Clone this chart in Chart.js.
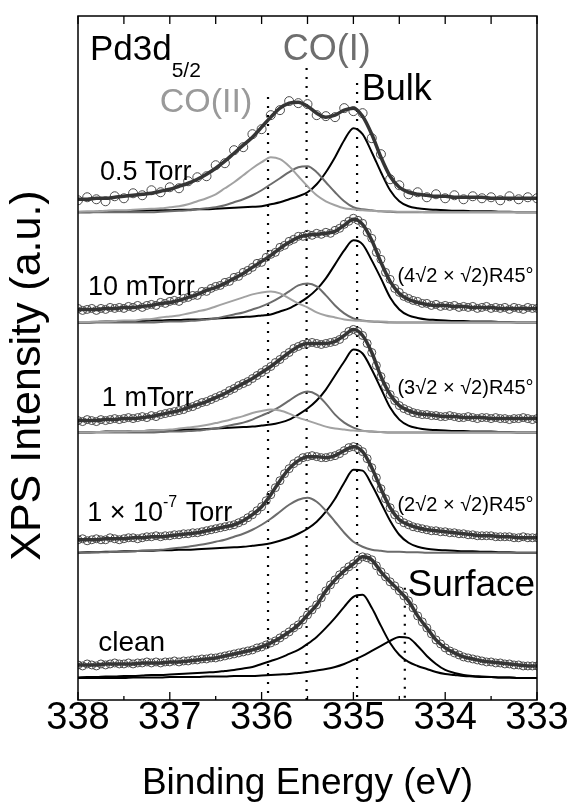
<!DOCTYPE html>
<html>
<head>
<meta charset="utf-8">
<script src="https://cdn.jsdelivr.net/npm/chart.js@4.4.1/dist/chart.umd.min.js"></script>
<style>
  html, body { margin: 0; padding: 0; background: #fff; }
  #wrap { width: 569px; height: 806px; }
</style>
</head>
<body>
<div id="wrap"><canvas id="xpsChart" width="569" height="806"></canvas></div>
<script>
// Pd3d5/2 XPS spectra, stacked. Energies run 338 -> 333 eV.
// Fit curves sampled every 0.1 eV, data every 0.05 eV (0.1 eV for 0.5 Torr).
const tickLabels = [338, 337, 336, 335, 334, 333];
const minorTicks = [337.5, 336.5, 335.5, 334.5, 333.5];
const offsets = [487, 377, 267, 147, 22];   // component baseline of each spectrum
const markerEnergies = [335.93, 335.51, 334.96, 334.44];
const markerTops = [602, 631, 616, 112];

// --- 0.5 Torr ---
const env1 = [13,13,14,14,15,16,17,18,19,21, 23,26,29,33,38,44,51,59,67,75, 85,95,104,109,110,106,99,95,97,102, 104,96,78,55,36,25,20,18,17,16, 16,15,15,15,15,14,14,14,14,14, 14];
const data1 = [12,15,13,11,16,14,19,17,22,20, 25,24,31,35,36,47,49,62,65,78, 83,97,102,111,109,108,97,96,95,104, 101,99,74,58,33,27,18,20,15,18, 14,17,13,16,14,15,12,16,13,15, 14];
const bulk1 = [0,0,0.5,1,1,1,1.5,1.5,2,2, 2,2.5,2.5,3,3,3.5,4,4.5,5,5.5, 6,8,10,13,16,20,28,40,55,72, 84,78,60,40,22,11,6,4,3,2.5, 2,1.5,1.5,1,1,1,0.5,0.5,0,0, 0];
const coI1 = [0,0,0,0,0,0,0,0,0,0.5, 1,1.5,2,3,4,5,7,10,13,17, 22,28,34,40,45,46,40,30,20,11, 5,3,2,1,0.5,0,0,0,0,0, 0,0,0,0,0,0,0,0,0,0, 0];
const coII1 = [0.5,1,1,1.5,2,2,2.5,3,3.5,4, 5,6,8,11,14,18,24,30,37,44, 50,55,53,46,36,26,17,11,7,4, 3,2,1.5,1,1,0.5,0.5,0.5,0,0, 0,0,0,0,0,0,0,0,0,0, 0];

// --- 10 mTorr ---
const env2 = [13,13,13,14,14,15,15,16,17,19, 20,22,25,28,32,35,39,44,49,55, 61,67,74,80,85,87,88,89,91,97, 103,98,82,60,41,29,23,20,18,17, 17,16,16,15,15,15,14,14,14,14, 14];
const data2 = [14,12,13,14,12,14,13,15,14,15, 14,16,15,17,15,17,18,17,20,19, 21,22,21,24,25,27,27,31,31,34, 36,37,40,41,45,46,50,52,55,59, 60,65,68,70,75,77,81,83,86,86, 88,87,89,88,90,89,92,94,98,101, 104,102,99,90,84,70,63,50,43,34, 30,26,24,22,21,19,19,17,18,16, 17,16,17,15,16,15,16,14,15,16, 14,15,14,15,13,15,14,13,15,14, 14];
const bulk2 = [0,0,0.5,1,1,1,1.5,1.5,2,2, 2.5,2.5,3,3,3.5,4,4.5,5,5.5,6, 7,8,11,14,19,25,33,44,58,72, 82,78,62,44,25,13,7,4.5,3,2.5, 2,1.5,1.5,1,1,1,0.5,0.5,0,0, 0];
const coI2 = [0,0,0,0,0,0,0,0,0,0.5, 1,1,1.5,2,3,4,6,8,10,13, 16,20,25,31,37,39,36,27,17,9, 4,2,1,0.5,0,0,0,0,0,0, 0,0,0,0,0,0,0,0,0,0, 0];
const coII2 = [0.5,0.5,1,1,1.5,2,2,3,3.5,5, 6,7,9,11,13,16,19,22,25,28, 30,31,29,24,19,15,10,7,5,3, 2,1.5,1,1,0.5,0,0,0,0,0, 0,0,0,0,0,0,0,0,0,0, 0];

// --- 1 mTorr ---
const env3 = [12,12,12,13,13,14,14,15,16,18, 20,22,25,28,31,35,39,44,49,54, 60,66,73,80,86,89,89,89,91,97, 103,97,80,56,38,27,22,19,18,17, 16,16,15,15,15,14,14,14,14,14, 14];
const data3 = [12,11,13,12,11,13,12,13,14,13, 14,15,14,15,16,15,17,16,18,19, 20,21,22,23,25,26,28,30,31,33, 35,37,39,42,44,47,49,51,54,57, 60,63,66,70,73,77,80,84,86,88, 89,90,89,88,89,90,91,93,97,101, 103,101,97,89,80,67,56,46,38,32, 27,24,22,20,19,18,18,17,17,16, 16,17,16,15,15,16,15,14,15,15, 14,15,14,14,13,14,14,15,14,13, 14];
const bulk3 = [0,0,0.5,1,1,1,1.5,1.5,2,2, 2.5,2.5,3,3,3.5,4,4.5,5,5.5,6, 7,8,10,13,18,24,32,43,57,71, 83,79,63,44,25,13,7,4.5,3,2.5, 2,1.5,1.5,1,1,1,0.5,0.5,0,0, 0];
const coI3 = [0,0,0,0,0,0,0,0,0,0.5, 1,1,1.5,2,3,4,6,8,10,13, 17,21,26,32,38,41,38,29,18,10, 5,2,1,0.5,0,0,0,0,0,0, 0,0,0,0,0,0,0,0,0,0, 0];
const coII3 = [0,0,0.5,0.5,1,1,1.5,1.5,2,2.5, 3,4,5,6,7.5,9.5,11.5,14,16.5,19.5, 21.5,23,22,19,15,12,9,6,4,3, 2,1.5,1,0.5,0,0,0,0,0,0, 0,0,0,0,0,0,0,0,0,0, 0];

// --- 1 x 10^-7 Torr ---
const env4 = [13,13,13,14,14,14,15,15,16,16, 17,18,19,20,22,24,26,28,32,38, 46,58,72,84,92,96,96,95,97,102, 106,101,85,64,45,33,28,25,23,22, 21,20,19,18,17,17,16,16,15,15, 15];
const data4 = [13,14,12,13,14,13,13,15,14,13, 14,15,15,14,15,16,16,17,16,17, 17,18,18,19,19,20,20,21,22,23, 24,25,26,27,28,30,32,35,38,42, 46,52,58,65,72,79,84,89,92,95, 96,97,96,95,95,96,97,99,102,105, 106,104,101,94,85,75,64,54,45,38, 33,30,28,26,25,24,23,22,22,21, 21,20,20,19,19,18,18,17,17,17, 17,16,16,16,16,15,15,16,15,15, 15];
const bulk4 = [0,0.5,0.5,1,1,1.5,1.5,2,2,2.5, 2.5,3,3,3.5,4,4.5,5,5.5,6,7, 8,9.5,12,15,19,24,31,41,54,70, 83,82,68,50,32,18,10,6,4,3, 2.5,2,1.5,1.5,1,1,0.5,0.5,0,0, 0];
const coI4 = [0,0,0.5,0.5,1,1,1.5,2,2.5,3, 4,5,6,7.5,9,11,13,16,19,23, 28,34,41,48,53,55,51,42,31,20, 11,6,3,2,1,1,0.5,0.5,0,0, 0,0,0,0,0,0,0,0,0,0, 0];

// --- clean ---
const env5 = [13,13,13,14,14,14,14,15,15,15, 16,16,17,18,19,20,22,24,26,28, 31,35,40,46,53,63,73,87,98,107, 114,121,118,106,96,87,77,62,50,38, 30,25,21,19,17,16,15,14,13,12, 12];
const data5 = [13,12,14,13,12,14,13,14,15,14, 14,15,14,15,15,16,15,16,15,16, 16,17,16,17,17,18,18,19,19,20, 20,21,22,23,24,25,26,27,28,30, 31,33,35,37,40,43,46,50,53,58, 63,68,73,80,87,93,98,103,107,111, 114,118,121,120,118,112,106,101,96,92, 87,82,77,70,62,56,50,44,38,34, 30,27,25,23,21,20,19,18,17,16, 16,15,15,14,14,13,13,12,12,12, 12];
const bulk5 = [0.5,1,1,1.5,1.5,2,2,2.5,3,3, 3.5,4,4.5,5,5.5,6,7,8,9.5,11, 14,17,20,24,28,34,41,50,60,71, 81,83,70,52,35,23,16,12,9,6, 4,3,2,1.5,1,1,0.5,0.5,0,0, 0];
const surface5 = [0,0,0,0,0,0,0.5,0.5,0.5,0.5, 1,1,1,1,1.5,1.5,1.5,2,2,2, 2.5,3,3.5,4,5,6,7.5,9,11,14, 18,22,27,32,37,41,40,32,22,14, 8,5,3,2,1.5,1,0.5,0.5,0,0, 0];

const BLACK = '#000000';
const MID_GRAY = '#6c6c6c';
const LIGHT_GRAY = '#a2a2a2';
const ENVELOPE = '#353535';
const FONT = '"Liberation Sans", Arial, Helvetica, sans-serif';

const spectra = [
    { env: env1, data: data1, dataStep: 0.1, radius: 4.5, parts: [[coII1, LIGHT_GRAY], [coI1, MID_GRAY], [bulk1, BLACK]] },
    { env: env2, data: data2, dataStep: 0.05, radius: 4, parts: [[coII2, LIGHT_GRAY], [coI2, MID_GRAY], [bulk2, BLACK]] },
    { env: env3, data: data3, dataStep: 0.05, radius: 4, parts: [[coII3, LIGHT_GRAY], [coI3, MID_GRAY], [bulk3, BLACK]] },
    { env: env4, data: data4, dataStep: 0.05, radius: 4, parts: [[coI4, MID_GRAY], [bulk4, BLACK]] },
    { env: env5, data: data5, dataStep: 0.05, radius: 4, parts: [[surface5, BLACK], [bulk5, BLACK]] }
];

function toPoints(values, step, offset) {
    return values.map((v, i) => ({ x: +(338 - i * step).toFixed(2), y: v + offset }));
}

const datasets = [];

// dotted peak-position markers
markerEnergies.forEach((e, i) => {
    datasets.push({
        data: [{ x: e, y: markerTops[i] }, { x: e, y: 0 }],
        borderColor: BLACK,
        borderWidth: 2.2,
        borderDash: [2, 7],
        borderCapStyle: 'butt',
        pointRadius: 0,
        order: 6
    });
});

spectra.forEach((s, k) => {
    const off = offsets[k];
    s.parts.forEach(([vals, color]) => {
        datasets.push({
            data: toPoints(vals, 0.1, off),
            borderColor: color,
            borderWidth: 2,
            pointRadius: 0,
            cubicInterpolationMode: 'monotone',
            order: 5
        });
    });
    datasets.push({
        data: toPoints(s.data, s.dataStep, off),
        showLine: false,
        pointStyle: 'circle',
        pointRadius: s.radius,
        pointBorderWidth: 1,
        pointBorderColor: '#4a4a4a',
        pointBackgroundColor: 'rgba(0,0,0,0)',
        order: 4
    });
    datasets.push({
        data: toPoints(s.env, 0.1, off),
        borderColor: ENVELOPE,
        borderWidth: 3.5,
        pointRadius: 0,
        cubicInterpolationMode: 'monotone',
        order: 3
    });
});

// text labels, anchored in data coordinates (energy, intensity)
const labels = [
    { e: 337.87, y: 639, parts: [['Pd3d', 35, 0], ['5/2', 21, 17]], color: BLACK },
    { e: 337.11, y: 587, parts: [['CO(II)', 34, 0]], color: '#9a9a9a' },
    { e: 335.77, y: 639, parts: [['CO(I)', 36, 0]], color: '#6e6e6e' },
    { e: 334.91, y: 599, parts: [['Bulk', 36, 0]], color: BLACK },
    { e: 337.76, y: 519, parts: [['0.5 Torr', 27, 0]], color: BLACK },
    { e: 337.89, y: 404, parts: [['10 mTorr', 27, 0]], color: BLACK },
    { e: 337.74, y: 294, parts: [['1 mTorr', 27, 0]], color: BLACK },
    { e: 337.90, y: 179, parts: [['1 \u00d7 10', 27, 0], ['-7', 16, -14], [' Torr', 27, 0]], color: BLACK },
    { e: 337.78, y: 49, parts: [['clean', 28, 0]], color: BLACK },
    { e: 334.52, y: 417, parts: [['(4\u221a2 \u00d7 \u221a2)R45\u00b0', 20, 0]], color: BLACK },
    { e: 334.52, y: 306, parts: [['(3\u221a2 \u00d7 \u221a2)R45\u00b0', 20, 0]], color: BLACK },
    { e: 334.52, y: 189, parts: [['(2\u221a2 \u00d7 \u221a2)R45\u00b0', 20, 0]], color: BLACK },
    { e: 334.41, y: 104, parts: [['Surface', 37, 0]], color: BLACK }
];

const yTitle = 'XPS Intensity (a.u.)';

const frameAndText = {
    id: 'frameAndText',
    afterDatasetsDraw(chart) {
        const { ctx, chartArea: a, scales: { x, y } } = chart;
        ctx.save();
        ctx.strokeStyle = BLACK;
        ctx.lineWidth = 1.5;
        ctx.strokeRect(a.left, a.top, a.right - a.left, a.bottom - a.top);

        // inward tick marks
        ctx.lineWidth = 1.3;
        ctx.beginPath();
        tickLabels.forEach(v => {
            const px = x.getPixelForValue(v);
            ctx.moveTo(px, a.bottom); ctx.lineTo(px, a.bottom - 8);
            ctx.moveTo(px, a.top); ctx.lineTo(px, a.top + 8);
        });
        minorTicks.forEach(v => {
            const px = x.getPixelForValue(v);
            ctx.moveTo(px, a.bottom); ctx.lineTo(px, a.bottom - 4);
            ctx.moveTo(px, a.top); ctx.lineTo(px, a.top + 8);
        });
        ctx.stroke();

        // annotations
        ctx.textBaseline = 'alphabetic';
        ctx.textAlign = 'left';
        labels.forEach(lab => {
            let px = x.getPixelForValue(lab.e);
            const py = y.getPixelForValue(lab.y);
            ctx.fillStyle = lab.color;
            lab.parts.forEach(([txt, size, dy]) => {
                ctx.font = size + 'px ' + FONT;
                ctx.fillText(txt, px, py + dy);
                px += ctx.measureText(txt).width + (dy !== 0 ? 1 : 0);
            });
        });

        // y axis title, sits a little below the plot centre like the original
        ctx.translate(28, y.getPixelForValue(324));
        ctx.rotate(-Math.PI / 2);
        ctx.textAlign = 'center';
        ctx.textBaseline = 'middle';
        ctx.fillStyle = BLACK;
        ctx.font = '43px ' + FONT;
        ctx.fillText(yTitle, 0, 0);
        ctx.restore();
    }
};

new Chart(document.getElementById('xpsChart'), {
    type: 'line',
    data: { datasets },
    options: {
        responsive: false,
        animation: false,
        events: [],
        devicePixelRatio: 1,
        layout: { padding: { top: 16, right: 32, left: 78, bottom: 0 } },
        plugins: { legend: { display: false }, tooltip: { enabled: false } },
        scales: {
            x: {
                type: 'linear',
                reverse: true,
                min: 333,
                max: 338,
                grid: { display: false, drawTicks: false },
                border: { display: false },
                afterBuildTicks: (scale) => {
                    scale.ticks = tickLabels.map(v => ({ value: v }));
                },
                ticks: {
                    autoSkip: false,
                    maxRotation: 0,
                    padding: 0,
                    color: BLACK,
                    font: { family: FONT, size: 38, lineHeight: 1 },
                    callback: (v) => String(v)
                },
                title: {
                    display: true,
                    text: 'Binding Energy (eV)',
                    color: BLACK,
                    font: { family: FONT, size: 37, lineHeight: 1 },
                    padding: { top: 27, bottom: 4 }
                }
            },
            y: {
                type: 'linear',
                display: false,
                min: 0,
                max: 683
            }
        }
    },
    plugins: [frameAndText]
});
</script>
</body>
</html>
